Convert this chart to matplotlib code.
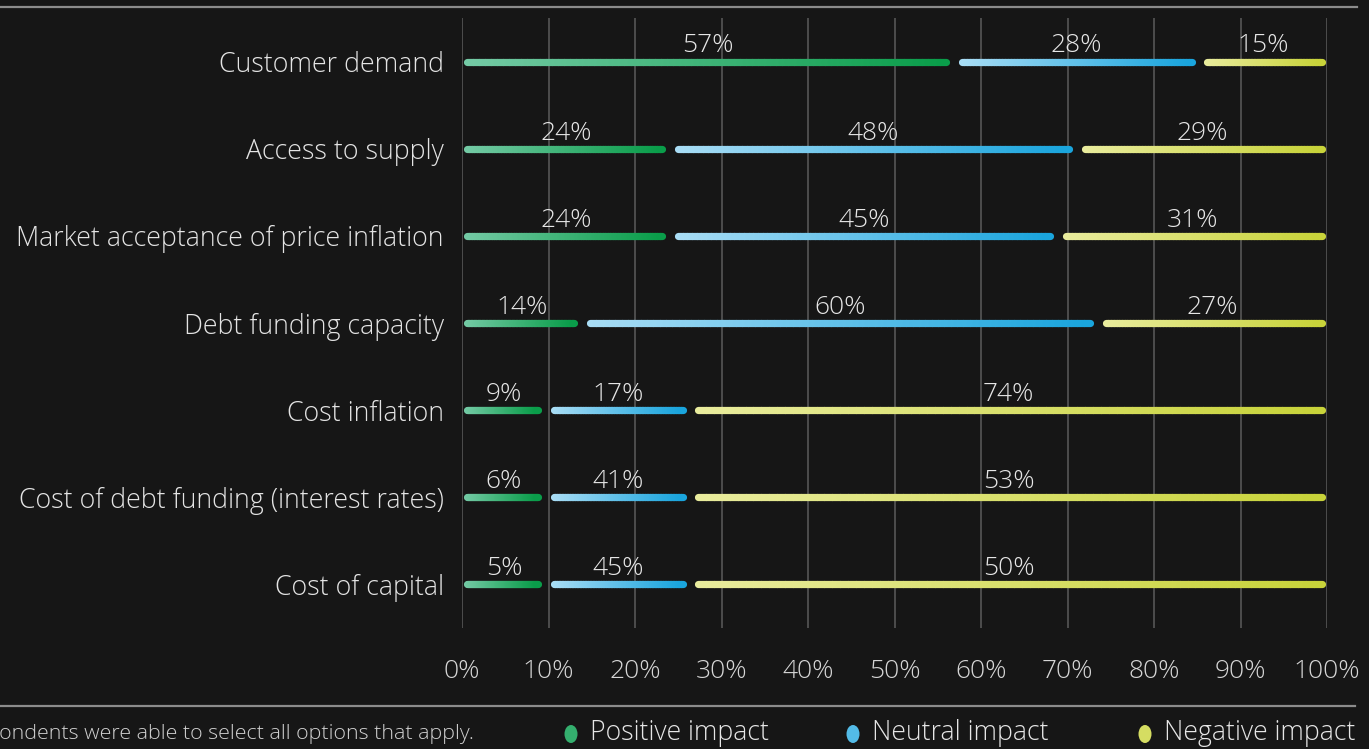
import matplotlib
matplotlib.use('Agg')
import numpy as np
import matplotlib.pyplot as plt
from matplotlib.collections import LineCollection
from matplotlib.colors import to_rgb
from matplotlib.lines import Line2D
from matplotlib.patches import Ellipse

plt.rcParams['font.family'] = ['Open Sans', 'DejaVu Sans']

# Data
factors = ["Customer demand", "Access to supply", "Market acceptance of price inflation",
           "Debt funding capacity", "Cost inflation", "Cost of debt funding (interest rates)",
           "Cost of capital"]
positive = [57, 24, 24, 14, 9, 6, 5]
neutral = [28, 48, 45, 60, 17, 41, 45]
negative = [15, 29, 31, 27, 74, 53, 50]
# bar lengths as drawn in the picture (the last rows reuse the cost inflation bars)
bar_positive = [56.85, 24.05, 24.05, 13.9, 9.7, 9.7, 9.7]
bar_neutral = [28.4, 47.05, 44.85, 59.6, 16.7, 16.7, 16.7]
bar_negative = [14.75, 28.9, 31.1, 26.5, 73.6, 73.6, 73.6]
series_names = ["Positive impact", "Neutral impact", "Negative impact"]
x_ticks = [0, 10, 20, 30, 40, 50, 60, 70, 80, 90, 100]

bg = '#161616'
gradients = [('#74caa5', '#0a9d4a'), ('#a9ddf5', '#1aa5dd'), ('#e9ec9d', '#c8d33a')]

W, H = 1369, 749
fig = plt.figure(figsize=(W / 100, H / 100), dpi=100, facecolor=bg)
ax = fig.add_axes([462 / W, 1 - 628 / H, (1327 - 462) / W, (628 - 18) / H])
ax.set_facecolor(bg)
ax.set_xlim(0, 100)
ax.set_ylim(6.5, -0.5)
for s in ax.spines.values():
    s.set_visible(False)

ax.set_xticks(x_ticks)
ax.set_xticklabels([f"{t}%" for t in x_ticks], fontsize=19, color='#d6d6d6', fontweight='light')
ax.tick_params(axis='x', length=0, pad=22.5)
ax.set_yticks(range(len(factors)))
ax.set_yticklabels(factors, fontsize=19.3, color='#e4e4e4', fontweight='light')
ax.tick_params(axis='y', length=0, pad=13)
ax.grid(axis='x', color='#565656', linewidth=1.2)
ax.set_axisbelow(True)

gap = 0.45
for i in range(len(factors)):
    bars = [bar_positive[i], bar_neutral[i], bar_negative[i]]
    labels = [positive[i], neutral[i], negative[i]]
    start = 0
    for j, (w, lab) in enumerate(zip(bars, labels)):
        end = start + w
        x0 = start + (0.55 if j == 0 else gap + 0.45)
        x1 = end - (0.6 if j == 2 else gap + 0.45)
        xs = np.linspace(x0, x1, 80)
        segs = [[(xs[k], i), (xs[k + 1], i)] for k in range(len(xs) - 1)]
        c0, c1 = np.array(to_rgb(gradients[j][0])), np.array(to_rgb(gradients[j][1]))
        t = np.linspace(0, 1, len(segs))
        cols = [c0 + (c1 - c0) * tt for tt in t]
        lc = LineCollection(segs, colors=cols, linewidths=5.2, capstyle='round', zorder=3)
        ax.add_collection(lc)
        ax.text((start + end) / 2, i - 0.105, f"{lab}%", ha='center', va='baseline',
                fontsize=19, color='#e6e6e6', fontweight='light', zorder=4)
        start = end

# frame lines
fig.add_artist(Line2D([0, 1357 / W], [1 - 7 / H, 1 - 7 / H], color='#8c8c8c', linewidth=1.6))
fig.add_artist(Line2D([0, 1355 / W], [1 - 706 / H, 1 - 706 / H], color='#8c8c8c', linewidth=1.6))

# footer note (cut at the left edge, as in the original)
fig.text(474 / W, 1 - 734 / H, "Respondents were able to select all options that apply.",
         ha='right', va='center', fontsize=15.4, color='#d0d0d0', fontweight='light')

# legend
legend_x = [571, 853, 1145]
for j, name in enumerate(series_names):
    mid = (np.array(to_rgb(gradients[j][0])) * 0.4 + np.array(to_rgb(gradients[j][1])) * 0.6)
    fig.add_artist(Ellipse((legend_x[j] / W, 1 - 734 / H), 13 / W, 18 / H,
                           transform=fig.transFigure, facecolor=mid, edgecolor='none'))
    fig.text((legend_x[j] + 19) / W, 1 - 733 / H, name, ha='left', va='center',
             fontsize=19.2, color='#e6e6e6', fontweight='light')

fig.savefig('out.png', dpi=100, facecolor=bg)
